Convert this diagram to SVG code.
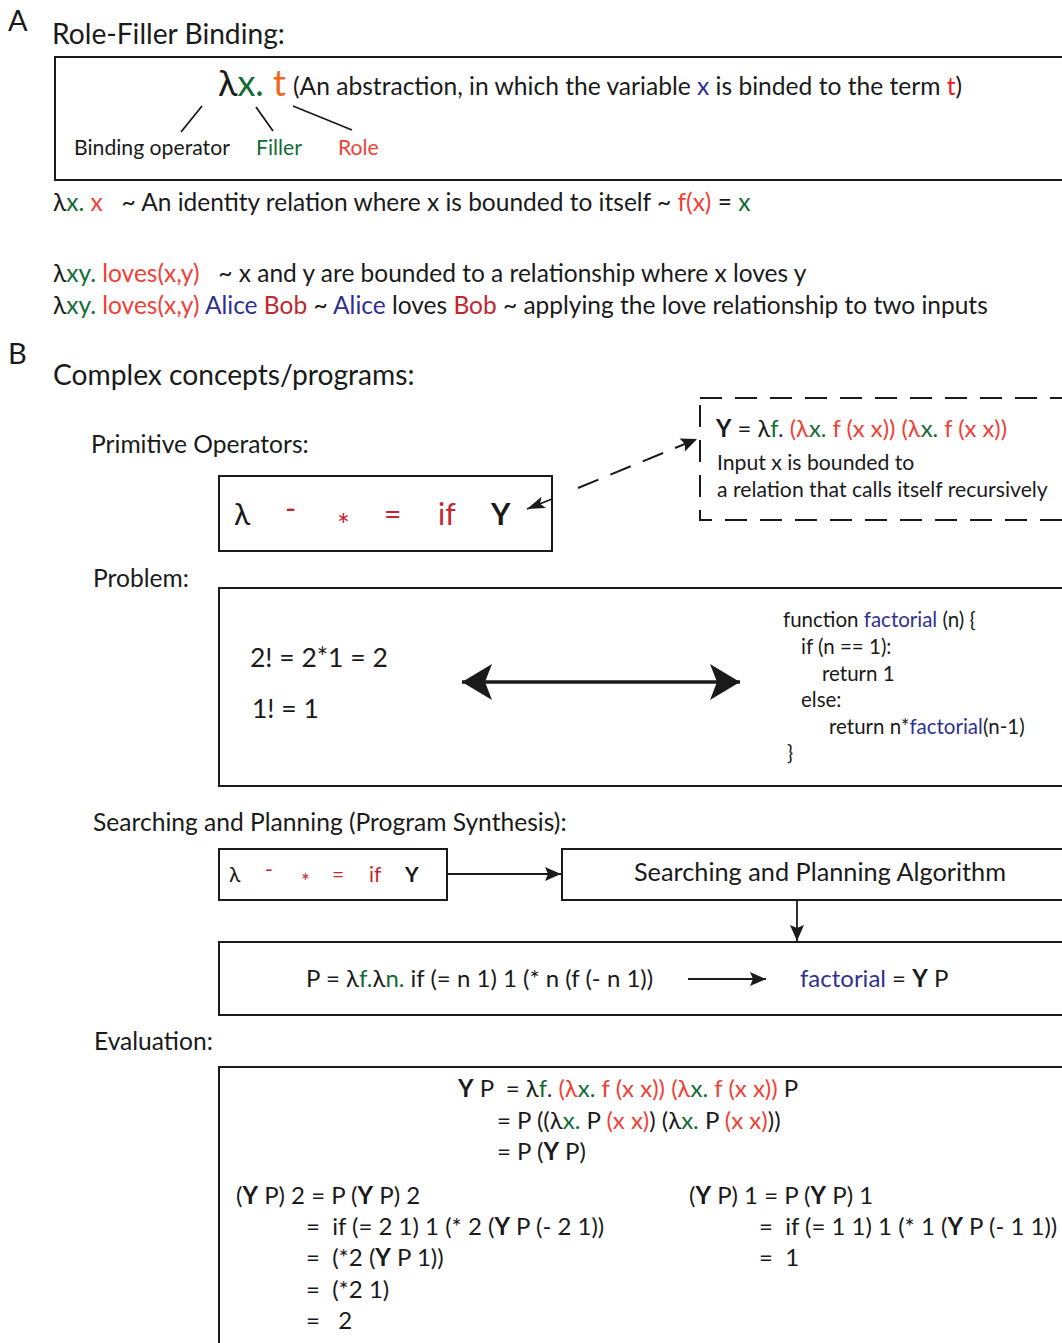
<svg xmlns="http://www.w3.org/2000/svg" width="1062" height="1343" viewBox="0 0 1062 1343">
  <style>
    text { font-family: Lato, "Open Sans", "Liberation Sans", sans-serif; fill: #1a1a1a; white-space: pre; }
    .big { font-size: 29px; }
    .h1 { font-size: 28.2px; }
    .h2 { font-size: 24.6px; }
    .eq { font-size: 24px; }
    .t24 { font-size: 24.5px; }
    .t21 { font-size: 21.2px; }
    .code { font-size: 20.5px; }
    .b { font-weight: bold; }
    .g { fill: #136b36; }
    .o { fill: #f26522; }
    .r { fill: #ef4136; }
    .rr { fill: #ed1c24; }
    .dr { fill: #c1272d; }
    .bl { fill: #2e3192; }
    .box { fill: none; stroke: #1a1a1a; stroke-width: 2; }
    .dash { fill: none; stroke: #1a1a1a; stroke-width: 2; stroke-dasharray: 22 13; }
    .ln { fill: none; stroke: #1a1a1a; stroke-width: 1.8; }
  </style>
  <defs>
    <marker id="head" markerUnits="userSpaceOnUse" markerWidth="20" markerHeight="16" refX="16" refY="8" orient="auto">
      <path d="M0,1 L16,8 L0,15 L3,8 Z" fill="#1a1a1a"/>
    </marker>
    <marker id="bighead" markerUnits="userSpaceOnUse" markerWidth="34" markerHeight="40" refX="32" refY="20" orient="auto-start-reverse">
      <path d="M2,2 L32,20 L2,38 L9,20 Z" fill="#1a1a1a"/>
    </marker>
    <marker id="thinhead" markerUnits="userSpaceOnUse" markerWidth="20" markerHeight="12" refX="18" refY="6" orient="auto">
      <path d="M0,0 L18,6 L0,12 L4,6 Z" fill="#1a1a1a"/>
    </marker>
  </defs>
  <rect width="1062" height="1343" fill="#ffffff"/>

  <!-- Panel A: role-filler binding -->
  <g id="panel-a">
    <text x="8" y="31" class="big">A</text>
    <text x="52" y="44" class="h1">Role-Filler Binding:</text>
  </g>
  <g id="binding-box">
    <rect x="55" y="57" width="1010" height="123" class="box"/>
    <text x="218" y="96" style="font-size:36px">λ<tspan class="g">x.</tspan> <tspan class="o">t</tspan></text>
    <text x="293" y="95" class="h2">(An abstraction, in which the variable <tspan class="bl">x</tspan> is binded to the term <tspan class="rr">t</tspan>)</text>
    <text x="74" y="155" class="t21">Binding operator</text>
    <text x="256" y="155" class="t21 g">Filler</text>
    <text x="338" y="155" class="t21 r">Role</text>
  </g>
  <g id="binding-lines">
    <line x1="202" y1="106" x2="181" y2="132" class="ln"/>
    <line x1="256" y1="107" x2="273" y2="131" class="ln"/>
    <line x1="293" y1="106" x2="352" y2="130" class="ln"/>
  </g>
  <g id="examples">
    <text x="53" y="211" class="t24">λ<tspan class="g">x.</tspan> <tspan class="r">x</tspan>   ~ An identity relation where x is bounded to itself ~ <tspan class="r">f(x)</tspan> = <tspan class="g">x</tspan></text>
    <text x="53" y="282" class="t24">λ<tspan class="g">xy.</tspan> <tspan class="r">loves(x,y)</tspan>   ~ x and y are bounded to a relationship where x loves y</text>
    <text x="53" y="314" class="t24">λ<tspan class="g">xy.</tspan> <tspan class="r">loves(x,y)</tspan> <tspan class="bl">Alice</tspan> <tspan class="dr">Bob</tspan> ~ <tspan class="bl">Alice</tspan> loves <tspan class="dr">Bob</tspan> ~ applying the love relationship to two inputs</text>
  </g>

  <!-- Panel B: complex concepts -->
  <g id="panel-b">
    <text x="8" y="364" class="big">B</text>
    <text x="53" y="385" class="h1">Complex concepts/programs:</text>
    <text x="91" y="453" class="h2">Primitive Operators:</text>
    <text x="93" y="587" class="h2">Problem:</text>
    <text x="93" y="831" class="h2">Searching and Planning (Program Synthesis):</text>
    <text x="94" y="1050" class="h2">Evaluation:</text>
  </g>

  <g id="operators">
    <rect x="219" y="476" width="333" height="75" class="box"/>
    <text y="525" style="font-size:30px"><tspan x="234">λ</tspan><tspan x="285" y="519" class="dr">-</tspan><tspan x="337" y="536" class="dr">*</tspan><tspan x="384" y="525" class="dr">=</tspan><tspan x="438" class="dr">if</tspan><tspan x="491" class="b">Y</tspan></text>
  </g>

  <g id="y-combinator">
    <rect x="700" y="398" width="365" height="122" class="dash"/>
    <text x="716" y="437" style="font-size:23.8px"><tspan class="b">Y</tspan> = λ<tspan class="g">f</tspan><tspan class="bl">.</tspan> <tspan class="r">(λ</tspan><tspan class="g">x.</tspan> <tspan class="r">f (x x))</tspan> <tspan class="r">(λ</tspan><tspan class="g">x.</tspan> <tspan class="r">f (x x))</tspan></text>
    <text x="717" y="470" class="t21">Input x is bounded to</text>
    <text x="717" y="497" class="t21">a relation that calls itself recursively</text>
  </g>

  <g id="problem">
    <rect x="219" y="588" width="846" height="198" class="box"/>
    <text x="250" y="667" style="font-size:26.5px">2! = 2*1 = 2</text>
    <text x="252" y="718" style="font-size:26.5px">1! = 1</text>
    <text x="783" y="627" class="code">function <tspan class="bl">factorial</tspan> (n) {</text>
    <text x="801" y="654" class="code">if (n == 1):</text>
    <text x="822" y="681" class="code">return 1</text>
    <text x="801" y="707" class="code">else:</text>
    <text x="829" y="734" class="code">return n*<tspan class="bl">factorial</tspan>(n-1)</text>
    <text x="787" y="760" class="code">}</text>
  </g>

  <g id="operators-small">
    <rect x="219" y="849" width="228" height="51" class="box"/>
    <text y="882" style="font-size:21px"><tspan x="229">λ</tspan><tspan x="265" y="877" class="dr">-</tspan><tspan x="301" y="889" class="dr">*</tspan><tspan x="332" y="882" class="dr">=</tspan><tspan x="369" class="dr">if</tspan><tspan x="405" class="b">Y</tspan></text>
  </g>

  <g id="search-algorithm">
    <rect x="562" y="849" width="503" height="51" class="box"/>
    <text x="820" y="881" text-anchor="middle" style="font-size:25.3px">Searching and Planning Algorithm</text>
  </g>

  <g id="program">
    <rect x="219" y="942" width="846" height="73" class="box"/>
    <text x="306" y="987" class="eq">P = λ<tspan class="g">f.</tspan>λ<tspan class="g">n.</tspan> if (= n 1) 1 (* n (f (- n 1))</text>
    <text x="800" y="987" class="eq"><tspan class="bl">factorial</tspan> = <tspan class="b">Y</tspan> P</text>
  </g>

  <g id="evaluation">
    <path d="M219,1345 V1067 H1065" class="box"/>
    <text x="458" y="1097" class="eq"><tspan class="b">Y</tspan> P  = λ<tspan class="g">f</tspan><tspan class="bl">.</tspan> <tspan class="r">(λ</tspan><tspan class="g">x.</tspan> <tspan class="r">f (x x))</tspan> <tspan class="r">(λ</tspan><tspan class="g">x.</tspan> <tspan class="r">f (x x))</tspan> P</text>
    <text x="497" y="1129" class="eq">= P ((λ<tspan class="g">x.</tspan> P <tspan class="r">(x x)</tspan>) (λ<tspan class="g">x.</tspan> P <tspan class="r">(x x)</tspan>))</text>
    <text x="497" y="1160" class="eq">= P (<tspan class="b">Y</tspan> P)</text>
    <text x="236" y="1204" class="eq">(<tspan class="b">Y</tspan> P) 2 = P (<tspan class="b">Y</tspan> P) 2</text>
    <text x="306" y="1235" class="eq">=  if (= 2 1) 1 (* 2 (<tspan class="b">Y</tspan> P (- 2 1))</text>
    <text x="306" y="1266" class="eq">=  (*2 (<tspan class="b">Y</tspan> P 1))</text>
    <text x="306" y="1298" class="eq">=  (*2 1)</text>
    <text x="306" y="1329" class="eq">=   2</text>
    <text x="689" y="1204" class="eq">(<tspan class="b">Y</tspan> P) 1 = P (<tspan class="b">Y</tspan> P) 1</text>
    <text x="759" y="1235" class="eq">=  if (= 1 1) 1 (* 1 (<tspan class="b">Y</tspan> P (- 1 1))</text>
    <text x="759" y="1266" class="eq">=  1</text>
  </g>

  <!-- connectors -->
  <g id="connectors">
    <line x1="578" y1="488" x2="697" y2="439" class="dash" stroke-dasharray="22 14" marker-end="url(#head)"/>
    <line x1="552" y1="499" x2="527" y2="509" class="ln" marker-end="url(#thinhead)"/>
    <line x1="462" y1="682" x2="740" y2="682" stroke="#1a1a1a" stroke-width="3.5" marker-start="url(#bighead)" marker-end="url(#bighead)"/>
    <line x1="447" y1="874" x2="561" y2="874" class="ln" marker-end="url(#head)"/>
    <line x1="797" y1="900" x2="797" y2="941" class="ln" marker-end="url(#head)"/>
    <line x1="688" y1="979" x2="766" y2="979" class="ln" marker-end="url(#head)"/>
  </g>
</svg>
